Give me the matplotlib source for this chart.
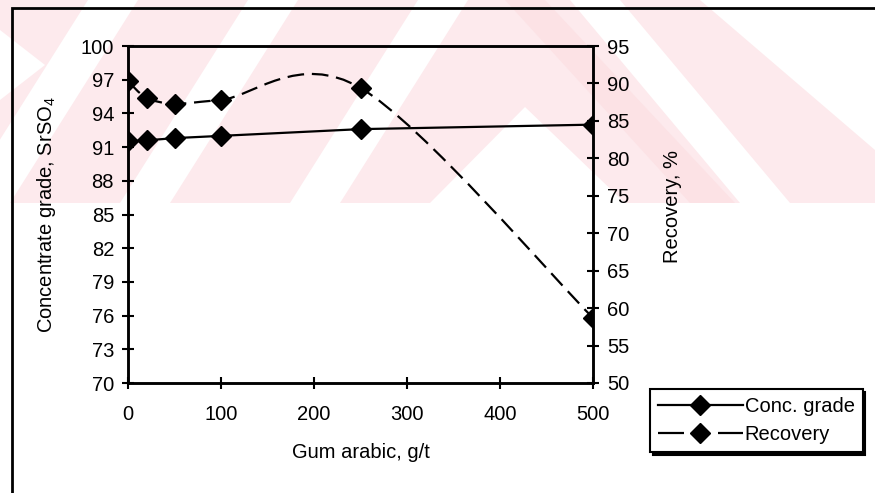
import numpy as np
import matplotlib.pyplot as plt
from matplotlib.path import Path
from matplotlib.patches import PathPatch, Polygon, Rectangle
from matplotlib.lines import Line2D

plt.rcParams['font.family'] = ['Liberation Sans', 'DejaVu Sans']
plt.rcParams['mathtext.default'] = 'regular'

# data
gum = [0, 20, 50, 100, 250, 500]
conc_grade = [91.5, 91.6, 91.8, 92.0, 92.6, 93.0]
recovery = [90.3, 88.1, 87.3, 87.8, 89.4, 58.7]

x_ticks = [0, 100, 200, 300, 400, 500]
left_ticks = list(range(70, 101, 3))
right_ticks = list(range(50, 96, 5))

W, H = 875, 493
fig = plt.figure(figsize=(W / 100, H / 100), dpi=100)


def fp(x, y):
    # pixel (from top-left) -> figure fraction
    return (x / W, 1 - y / H)


# faint watermark band at the top
band = Rectangle(fp(0, 203), 1, 203 / H, transform=fig.transFigure,
                 facecolor='#fdeaed', edgecolor='none', zorder=-3)
fig.add_artist(band)
stripes = []
# "/" white stripes on the left
for x0 in [-40, 120, 290]:
    stripes.append([(x0, 203), (x0 + 50, 203), (x0 + 50 + 128, 0), (x0 + 128, 0)])
# left chevron notch
stripes.append([(0, 30), (45, 65), (0, 100)])
# inner white wedge of the big mountain
stripes.append([(525, 107), (625, 203), (430, 203)])
# "\" white stripe and the white top-right corner
stripes.append([(570, 0), (620, 0), (790, 203), (740, 203)])
stripes.append([(700, 0), (875, 0), (875, 150)])
for pts in stripes:
    poly = Polygon([fp(*p) for p in pts], closed=True, transform=fig.transFigure,
                   facecolor='white', edgecolor='none', zorder=-2)
    fig.add_artist(poly)
    poly.set_clip_path(band)
# slightly stronger pink leg of the mountain
leg = Polygon([fp(*p) for p in [(505, 0), (545, 0), (735, 203), (690, 203)]],
              closed=True, transform=fig.transFigure,
              facecolor='#fce2e5', edgecolor='none', zorder=-2)
fig.add_artist(leg)
leg.set_clip_path(band)

# outer frame (runs off the right and bottom of the picture)
fig.add_artist(Rectangle(fp(12, 520), 1.2, (520 - 8) / H, transform=fig.transFigure,
                         fill=False, edgecolor='black', linewidth=2.0, zorder=1))

left, right, top, bottom = 128, 593, 46, 383
ax = fig.add_axes([left / W, 1 - bottom / H, (right - left) / W, (bottom - top) / H])
ax.set_facecolor('none')
ax2 = ax.twinx()
ax2.set_facecolor('none')

ax.plot(gum, conc_grade, color='black', linewidth=1.6, marker='D',
        markersize=10, markerfacecolor='black', zorder=3)

ax.set_xlim(0, 500)
ax.set_ylim(70, 100)
ax2.set_ylim(50, 95)

# smoothed (Catmull-Rom as Bezier) dashed recovery curve, built in screen proportions
aw, ah = right - left, bottom - top
sx = np.array(gum) / 500 * aw
sy = (np.array(recovery) - 50) / 45 * ah
pts = np.column_stack([sx, sy])
n = len(pts)
verts = [pts[0]]
codes = [Path.MOVETO]
for i in range(n - 1):
    p0 = pts[max(i - 1, 0)]
    p1 = pts[i]
    p2 = pts[i + 1]
    p3 = pts[min(i + 2, n - 1)]
    c1 = p1 + (p2 - p0) / 6
    c2 = p2 - (p3 - p1) / 6
    verts += [c1, c2, p2]
    codes += [Path.CURVE4] * 3
verts = np.array(verts)
verts_data = np.column_stack([verts[:, 0] / aw * 500, verts[:, 1] / ah * 45 + 50])
curve = PathPatch(Path(verts_data, codes), fill=False, edgecolor='black',
                  linewidth=1.6, linestyle=(0, (7.5, 3.5)), zorder=3)
ax2.add_patch(curve)
ax2.plot(gum, recovery, linestyle='none', marker='D', markersize=10,
         color='black', zorder=4)

for a in (ax, ax2):
    for s in a.spines.values():
        s.set_linewidth(1.8)

ax.set_xticks(x_ticks)
ax.set_yticks(left_ticks)
ax2.set_yticks(right_ticks)
ax.tick_params(axis='x', direction='inout', length=8, width=1.5, pad=12, labelsize=14.5)
ax.tick_params(axis='y', direction='inout', length=8, width=1.5, pad=6, labelsize=14.5)
ax2.tick_params(axis='y', direction='inout', length=8, width=1.5, pad=6, labelsize=14.5)

ax.set_xlabel('Gum arabic, g/t', fontsize=14.5, va='center')
ax.xaxis.set_label_coords(0.5, -(452 - bottom) / ah)
ax.set_ylabel('Concentrate grade, SrSO$_4$', fontsize=14.5, va='center')
ax.yaxis.set_label_coords((47 - left) / aw, 0.5)
ax2.set_ylabel('Recovery, %', fontsize=14.5, va='center')
ax2.yaxis.set_label_coords((672 - left) / aw, (bottom - 206) / ah)

handles = [Line2D([], [], color='black', linewidth=1.6, marker='D', markersize=10),
           Line2D([], [], color='black', linewidth=1.6, linestyle=(0, (11.7, 15.3)),
                  marker='D', markersize=10)]
leg_box = fig.legend(handles, ['Conc. grade', 'Recovery'], loc='upper left',
                     bbox_to_anchor=fp(650, 389), fontsize=14.5, numpoints=1,
                     handlelength=4.2, handletextpad=0.1, borderpad=0.4,
                     labelspacing=0.45, fancybox=False,
                     shadow={'color': 'black', 'alpha': 1, 'ox': 2, 'oy': -2},
                     framealpha=1, edgecolor='black', borderaxespad=0)
leg_box.get_frame().set_linewidth(1.5)

fig.savefig('out.png', dpi=100)
